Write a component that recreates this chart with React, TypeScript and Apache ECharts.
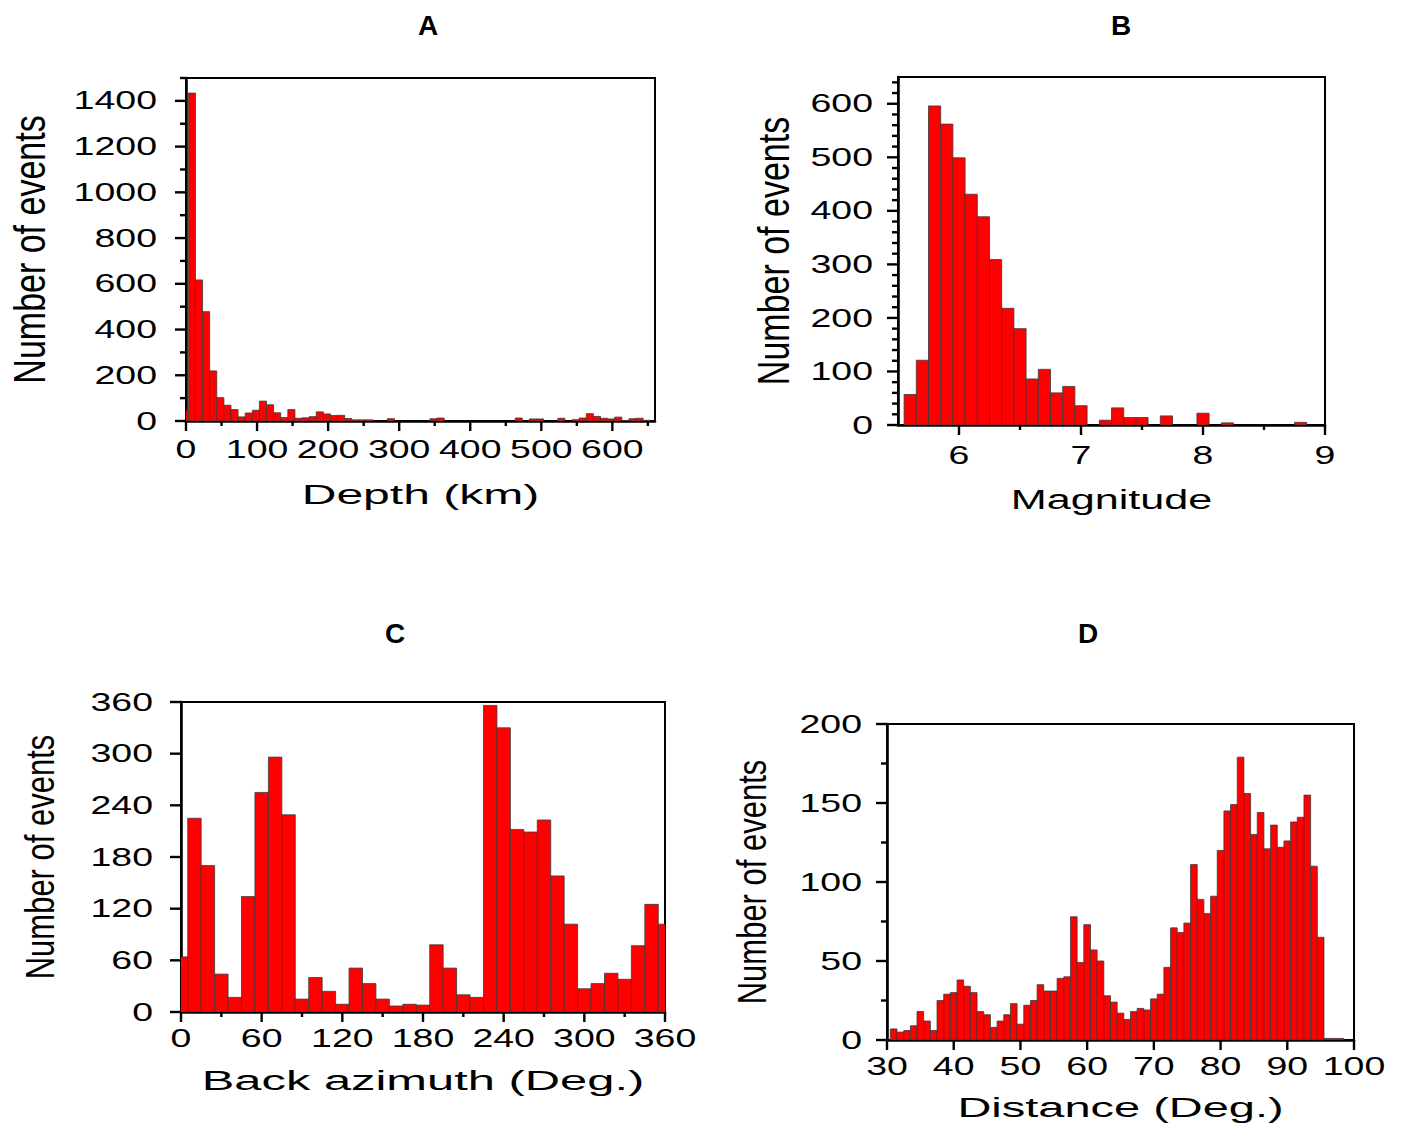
import React, { useEffect, useRef } from "react";
import * as echarts from "echarts";

// ---------- DATA ----------
// Panel A: depth histogram, 10 km bins starting at -6.7 km
const depthBinStart = -6.7;
const depthBinWidth = 10;
const depthCounts = [
  47, 1434, 617, 478, 219, 102, 69, 50, 18, 35, 47, 87, 71, 36, 15, 50, 12, 14, 19, 40,
  31, 24, 25, 11, 5, 5, 5, 0, 0, 10, 0, 0, 0, 0, 0, 10, 13, 0, 0, 0,
  0, 0, 0, 0, 0, 0, 0, 13, 0, 9, 9, 0, 0, 12, 0, 6, 13, 32, 20, 12,
  9, 17, 2, 10, 12, 3,
];
const depthXTicks = [0, 100, 200, 300, 400, 500, 600];
const depthXMinor = [50, 150, 250, 350, 450, 550, 650];
const depthYTicks = [0, 200, 400, 600, 800, 1000, 1200, 1400];
const depthYMinor = [100, 300, 500, 700, 900, 1100, 1300, 1500];

// Panel B: magnitude histogram, 0.1 bins starting at 5.55
const magBinStart = 5.55;
const magBinWidth = 0.1;
const magCounts = [
  57, 121, 596, 562, 499, 431, 389, 309, 218, 180, 86, 104, 60, 72, 36, 0, 9, 32, 14, 14,
  0, 17, 0, 0, 22, 0, 4, 0, 0, 0, 0, 0, 5,
];
const magXTicks = [6, 7, 8, 9];
const magXMinor = [6.5, 7.5, 8.5];
const magYTicks = [0, 100, 200, 300, 400, 500, 600];
const magYMinor = [
  20, 40, 60, 80, 120, 140, 160, 180, 220, 240, 260, 280, 320, 340, 360, 380, 420, 440, 460, 480,
  520, 540, 560, 580, 620, 640,
];

// Panel C: back azimuth histogram, 10 deg bins starting at -5
const bazBinStart = -5;
const bazBinWidth = 10;
const bazCounts = [
  64, 225, 170, 44, 17, 134, 255, 296, 229, 15, 40, 24, 9, 51, 33, 15, 7, 9, 8, 78,
  51, 20, 17, 356, 330, 212, 209, 223, 158, 102, 27, 33, 45, 38, 77, 125, 102,
];
const bazXTicks = [0, 60, 120, 180, 240, 300, 360];
const bazXMinor = [30, 90, 150, 210, 270, 330];
const bazYTicks = [0, 60, 120, 180, 240, 300, 360];
const bazYMinor: number[] = [];

// Panel D: epicentral distance histogram, 1 deg bins starting at 30.5
const distBinStart = 30.5;
const distBinWidth = 1;
const distCounts = [
  7, 5, 6, 9, 18, 12, 6, 25, 29, 30, 38, 34, 30, 18, 16, 8, 12, 16, 23, 10,
  22, 25, 35, 31, 31, 39, 40, 78, 49, 73, 57, 50, 28, 24, 17, 13, 18, 20, 19, 26,
  29, 46, 71, 68, 74, 111, 89, 80, 91, 120, 145, 149, 179, 156, 130, 144, 121, 136, 122, 126,
  138, 141, 155, 110, 65, 1, 1, 1,
];
const distXTicks = [30, 40, 50, 60, 70, 80, 90, 100];
const distXMinor: number[] = [];
const distYTicks = [0, 50, 100, 150, 200];
const distYMinor = [25, 75, 125, 175];

const titles = ["A", "B", "C", "D"];
const xNames = ["Depth (km)", "Magnitude", "Back azimuth (Deg.)", "Distance (Deg.)"];
const yName = "Number of events";

// ---------- LAYOUT ----------
const FONT = "'Liberation Sans', Arial, Helvetica, sans-serif";

const panels = [
  {
    grid: { left: 186, top: 78, width: 469, height: 343 },
    x: [0, 660], y: [0, 1500],
    binStart: depthBinStart, binWidth: depthBinWidth, counts: depthCounts,
    xTicks: depthXTicks, xMinor: depthXMinor, yTicks: depthYTicks, yMinor: depthYMinor,
    xLabelOff: 28, yLabelGap: 29, xNameOff: 74, xNameScale: 1.78, yNameOff: 157, yNameSize: 34,
    title: [428, 25],
  },
  {
    grid: { left: 898, top: 77, width: 427, height: 348 },
    x: [5.5, 9], y: [0, 650],
    binStart: magBinStart, binWidth: magBinWidth, counts: magCounts,
    xTicks: magXTicks, xMinor: magXMinor, yTicks: magYTicks, yMinor: magYMinor,
    xLabelOff: 30, yLabelGap: 25, xNameOff: 75, xNameScale: 1.6, yNameOff: 125, yNameSize: 34,
    title: [1121, 25],
  },
  {
    grid: { left: 181, top: 702, width: 484, height: 310 },
    x: [0, 360], y: [0, 360],
    binStart: bazBinStart, binWidth: bazBinWidth, counts: bazCounts,
    xTicks: bazXTicks, xMinor: bazXMinor, yTicks: bazYTicks, yMinor: bazYMinor,
    xLabelOff: 26, yLabelGap: 28, xNameOff: 68, xNameScale: 1.81, yNameOff: 141, yNameSize: 31,
    title: [395, 633],
  },
  {
    grid: { left: 887, top: 724, width: 467, height: 316 },
    x: [30, 100], y: [0, 200],
    binStart: distBinStart, binWidth: distBinWidth, counts: distCounts,
    xTicks: distXTicks, xMinor: distXMinor, yTicks: distYTicks, yMinor: distYMinor,
    xLabelOff: 26, yLabelGap: 25, xNameOff: 67, xNameScale: 1.74, yNameOff: 135, yNameSize: 31,
    title: [1088, 633],
  },
];

function fmt(v: number) {
  return String(v);
}

function makeDecor(p: any, idx: number) {
  return (params: any, api: any) => {
    const children: any[] = [];
    const bl = api.coord([p.x[0], p.y[0]]);
    const tr = api.coord([p.x[1], p.y[1]]);
    const x0 = bl[0];
    const y0 = bl[1];
    const tick = (x1: number, y1: number, x2: number, y2: number) => ({
      type: "line",
      shape: { x1, y1, x2, y2 },
      style: { stroke: "#000", lineWidth: 2.4 },
    });
    const txt = (s: string, x: number, y: number, size: number, align: string, sx: number) => ({
      type: "text",
      x, y, scaleX: sx,
      style: { text: s, fontSize: size, fontFamily: FONT, fill: "#000", align, verticalAlign: "middle" },
    });
    p.xTicks.forEach((v: number) => {
      const x = api.coord([v, p.y[0]])[0];
      children.push(tick(x, y0, x, y0 + 10));
      children.push(txt(fmt(v), x, y0 + p.xLabelOff, 25, "center", 1.5));
    });
    p.xMinor.forEach((v: number) => {
      const x = api.coord([v, p.y[0]])[0];
      children.push(tick(x, y0, x, y0 + 5));
    });
    p.yTicks.forEach((v: number) => {
      const y = api.coord([p.x[0], v])[1];
      children.push(tick(x0 - 11, y, x0, y));
      children.push(txt(fmt(v), x0 - p.yLabelGap, y, 25, "right", 1.5));
    });
    p.yMinor.forEach((v: number) => {
      const y = api.coord([p.x[0], v])[1];
      children.push(tick(x0 - 6, y, x0, y));
    });
    children.push(txt(xNames[idx], (x0 + tr[0]) / 2, y0 + p.xNameOff, 27, "center", p.xNameScale));
    children.push({
      type: "text",
      x: x0 - p.yNameOff,
      y: (y0 + tr[1]) / 2,
      rotation: Math.PI / 2,
      scaleY: 1.3,
      style: { text: yName, fontSize: p.yNameSize, fontFamily: FONT, fill: "#000", align: "center", verticalAlign: "middle" },
    });
    return { type: "group", children };
  };
}

function renderBar(params: any, api: any) {
  const s = api.value(0);
  const e = api.value(1);
  const v = api.value(2);
  if (!(v > 0)) return null;
  const p0 = api.coord([s, 0]);
  const p1 = api.coord([e, v]);
  return {
    type: "rect",
    shape: { x: p0[0], y: p1[1], width: p1[0] - p0[0], height: p0[1] - p1[1] },
    style: { fill: "#ff0000", stroke: "#3a3a3a", lineWidth: 0.8 },
  };
}

export default function App() {
  const ref = useRef<HTMLDivElement>(null);
  useEffect(() => {
    if (!ref.current) return;
    const chart = echarts.init(ref.current, null, { renderer: "svg" });
    const grids: any[] = [];
    const xAxes: any[] = [];
    const yAxes: any[] = [];
    const series: any[] = [];
    const graphics: any[] = [];
    panels.forEach((p, i) => {
      grids.push({ ...p.grid, show: true, borderColor: "#000", borderWidth: 2, backgroundColor: "transparent", containLabel: false });
      const axisBase = {
        type: "value",
        gridIndex: i,
        axisLine: { show: true, onZero: false, lineStyle: { color: "#000", width: 2.6 } },
        axisTick: { show: false },
        axisLabel: { show: false },
        splitLine: { show: false },
      };
      xAxes.push({ ...axisBase, min: p.x[0], max: p.x[1] });
      yAxes.push({ ...axisBase, min: p.y[0], max: p.y[1] });
      const bins = p.counts.map((c: number, k: number) => [
        p.binStart + k * p.binWidth,
        p.binStart + (k + 1) * p.binWidth,
        c,
      ]);
      series.push({
        type: "custom",
        xAxisIndex: i,
        yAxisIndex: i,
        clip: true,
        silent: true,
        encode: { x: [0, 1], y: 2 },
        data: bins,
        renderItem: renderBar,
        z: 2,
      });
      series.push({
        type: "custom",
        xAxisIndex: i,
        yAxisIndex: i,
        clip: false,
        silent: true,
        encode: { x: 0, y: 1 },
        data: [[p.x[0], p.y[0]]],
        renderItem: makeDecor(p, i),
        z: 5,
      });
      graphics.push({
        type: "text",
        x: p.title[0],
        y: p.title[1],
        style: { text: titles[i], fontSize: 28, fontWeight: "bold", fontFamily: FONT, fill: "#000", align: "center", verticalAlign: "middle" },
      });
    });
    chart.setOption({
      animation: false,
      backgroundColor: "#ffffff",
      grid: grids,
      xAxis: xAxes,
      yAxis: yAxes,
      series,
      graphic: graphics,
    });
    return () => chart.dispose();
  }, []);
  return (
    <div
      ref={ref}
      style={{ position: "absolute", left: 0, top: 0, width: 1403, height: 1126, background: "#fff" }}
    />
  );
}
